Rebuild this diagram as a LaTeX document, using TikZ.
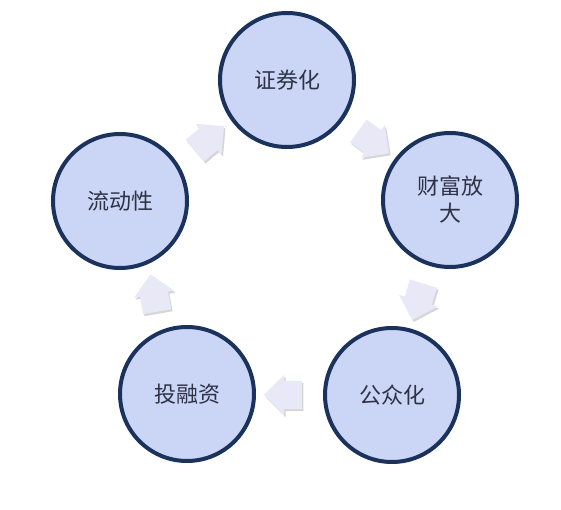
\documentclass[tikz,border=0pt]{standalone}
\usepackage{fontspec}
\newfontfamily\cjk{Noto Sans CJK SC}
\usetikzlibrary{shapes.arrows,shadows}
\definecolor{circfill}{RGB}{203,214,247}
\definecolor{circline}{RGB}{26,50,92}
\definecolor{txt}{RGB}{45,50,70}
\definecolor{arrfill}{RGB}{232,232,247}
\begin{document}
\begin{tikzpicture}[x=1pt,y=1pt,
  stage/.style={circle, draw=circline, line width=4pt, fill=circfill,
    minimum size=134pt, inner sep=0pt,
    font=\cjk\fontsize{22}{27}\selectfont, text=txt, align=center},
  flow/.style={single arrow, fill=arrfill, draw=none, minimum height=38pt,
    single arrow head extend=6pt, inner xsep=0pt, inner ysep=14pt,
    drop shadow={shadow xshift=1.5pt, shadow yshift=-2pt, fill=black!35, opacity=0.45}}]
\useasboundingbox (0,0) rectangle (561,509);
\fill[white] (0,0) rectangle (561,509);
\node[stage] (c1) at (287,429) {证券化};
\node[stage] (c2) at (450,309) {财富放\\大};
\node[stage] (c3) at (392,114) {公众化};
\node[stage] (c4) at (187,115) {投融资};
\node[stage] (c5) at (120,308) {流动性};
\node[flow, rotate=40] (a1) at (204,366) {};
\node[flow, rotate=-36] (a2) at (368,371) {};
\node[flow, rotate=-107] (a3) at (420,214) {};
\node[flow, rotate=180] (a4) at (290,114) {};
\node[flow, rotate=100] (a5) at (155,209) {};
\end{tikzpicture}
\end{document}
